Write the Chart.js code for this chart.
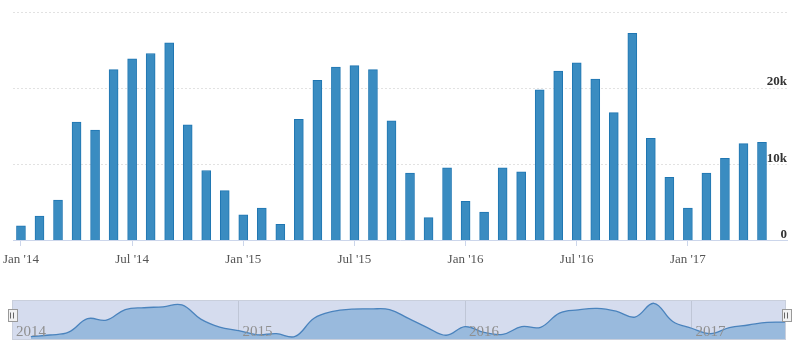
<!DOCTYPE html>
<html>
<head>
<meta charset="utf-8">
<script src="https://cdn.jsdelivr.net/npm/chart.js@4/dist/chart.umd.min.js"></script>
<style>
    body { margin: 0; background: #fff; }
    #main { position: absolute; left: 0; top: 0; width: 800px; height: 275px; }
    #nav { position: absolute; left: 0; top: 290px; width: 800px; height: 60px; }
</style>
</head>
<body>
<div id="main"><canvas id="barChart"></canvas></div>
<div id="nav"><canvas id="navChart"></canvas></div>
<script>
    // monthly values, Jan 2014 .. May 2017
    const months = ["Jan '14", "Feb '14", "Mar '14", "Apr '14", "May '14", "Jun '14", "Jul '14", "Aug '14", "Sep '14", "Oct '14", "Nov '14", "Dec '14",
        "Jan '15", "Feb '15", "Mar '15", "Apr '15", "May '15", "Jun '15", "Jul '15", "Aug '15", "Sep '15", "Oct '15", "Nov '15", "Dec '15",
        "Jan '16", "Feb '16", "Mar '16", "Apr '16", "May '16", "Jun '16", "Jul '16", "Aug '16", "Sep '16", "Oct '16", "Nov '16", "Dec '16",
        "Jan '17", "Feb '17", "Mar '17", "Apr '17", "May '17"];
    const values = [1900, 3180, 5300, 15540, 14480, 22430, 23840, 24550, 25960, 15190, 9180, 6530,
        3350, 4240, 2120, 15890, 21020, 22780, 22960, 22430, 15720, 8830, 3000, 9540,
        5120, 3710, 9540, 9010, 19780, 22250, 23310, 21190, 16780, 27200, 13420, 8300,
        4240, 8830, 10770, 12720, 12890];
    const tickMonths = [0, 6, 12, 18, 24, 30, 36];
    const yTicks = [0, 10000, 20000, 30000];
    const yLabels = ["0", "10k", "20k", ""];
    const yearStarts = [0, 12, 24, 36];
    const yearLabels = ["2014", "2015", "2016", "2017"];

    const serif = "'Liberation Serif', 'DejaVu Serif', serif";

    // MAIN COLUMN CHART
    new Chart(document.getElementById('barChart'), {
        type: 'bar',
        data: {
            datasets: [{
                data: values.map((v, i) => ({ x: i, y: v })),
                backgroundColor: '#3a8cc1',
                borderColor: '#1f76b2',
                borderWidth: 1,
                barThickness: 9
            }]
        },
        options: {
            responsive: true,
            maintainAspectRatio: false,
            animation: false,
            layout: { padding: { left: 13, right: 13, top: 12, bottom: 6 } },
            plugins: { legend: { display: false }, tooltip: { enabled: false } },
            scales: {
                x: {
                    type: 'linear',
                    offset: false,
                    min: -0.43,
                    max: 41.35,
                    afterBuildTicks: axis => { axis.ticks = tickMonths.map(v => ({ value: v })); },
                    ticks: {
                        callback: v => months[v],
                        color: '#555',
                        font: { family: serif, size: 13 },
                        padding: 2,
                        maxRotation: 0,
                        autoSkip: false
                    },
                    // short visible tick, the rest of the tick length only spaces the labels
                    grid: { offset: false, drawOnChartArea: false, drawTicks: true, tickLength: 9,
                        tickBorderDash: [5, 20], color: '#ccd6eb' },
                    border: { color: '#ccd6eb' }
                },
                y: {
                    position: 'right',
                    min: 0,
                    max: 30000,
                    afterBuildTicks: axis => { axis.ticks = yTicks.map(v => ({ value: v })); },
                    ticks: {
                        mirror: true,
                        padding: 0,
                        labelOffset: -6,
                        callback: (v, i) => yLabels[i],
                        color: '#333',
                        font: { family: serif, size: 13, weight: 'bold' }
                    },
                    grid: { color: '#e2e2e2', drawTicks: false },
                    border: { display: false, dash: [2, 2] }
                }
            }
        }
    });

    // NAVIGATOR
    const navDeco = {
        id: 'navDeco',
        beforeDraw(chart) {
            const { ctx, chartArea: a } = chart;
            ctx.save();
            ctx.fillStyle = '#d5dcee';
            ctx.fillRect(a.left, a.top, a.right - a.left, a.bottom - a.top);
            ctx.restore();
        },
        afterDraw(chart) {
            const { ctx, chartArea: a } = chart;
            const xs = chart.scales.x;
            ctx.save();
            ctx.strokeStyle = '#c9cfdc';
            ctx.lineWidth = 1;
            ctx.strokeRect(a.left + 0.5, a.top + 0.5, a.right - a.left - 1, a.bottom - a.top - 1);
            // year labels
            ctx.fillStyle = '#8f8f8f';
            ctx.font = '15px ' + serif;
            ctx.textBaseline = 'alphabetic';
            yearStarts.forEach((m, i) => {
                ctx.fillText(yearLabels[i], xs.getPixelForValue(m) + 4, a.bottom - 4);
            });
            // handles
            [a.left, a.right].forEach(x => {
                const top = a.top + 9.5, h = 12, w = 9;
                ctx.fillStyle = '#f2f2f2';
                ctx.strokeStyle = '#999';
                ctx.fillRect(Math.round(x - w / 2) + 0.5, top, w, h);
                ctx.strokeRect(Math.round(x - w / 2) + 0.5, top, w, h);
                ctx.beginPath();
                ctx.moveTo(Math.round(x) - 1.5, top + 3); ctx.lineTo(Math.round(x) - 1.5, top + h - 3);
                ctx.moveTo(Math.round(x) + 1.5, top + 3); ctx.lineTo(Math.round(x) + 1.5, top + h - 3);
                ctx.strokeStyle = '#666';
                ctx.stroke();
            });
            ctx.restore();
        }
    };

    new Chart(document.getElementById('navChart'), {
        type: 'line',
        data: {
            datasets: [{
                data: values.map((v, i) => ({ x: i + 1, y: v })),
                borderColor: '#4a83bd',
                borderWidth: 1.3,
                backgroundColor: '#99badd',
                fill: 'start',
                tension: 0.4,
                pointRadius: 0
            }]
        },
        options: {
            responsive: true,
            maintainAspectRatio: false,
            animation: false,
            layout: { padding: { left: 12, right: 14, top: 10, bottom: 10 } },
            plugins: { legend: { display: false }, tooltip: { enabled: false } },
            scales: {
                x: {
                    type: 'linear',
                    min: 0,
                    max: 41,
                    display: true,
                    afterBuildTicks: axis => { axis.ticks = yearStarts.map(v => ({ value: v })); },
                    ticks: { display: false },
                    grid: { color: '#bfc6d6', drawTicks: false },
                    border: { display: false }
                },
                y: {
                    display: false,
                    min: -600,
                    max: 29700
                }
            }
        },
        plugins: [navDeco]
    });
</script>
</body>
</html>
